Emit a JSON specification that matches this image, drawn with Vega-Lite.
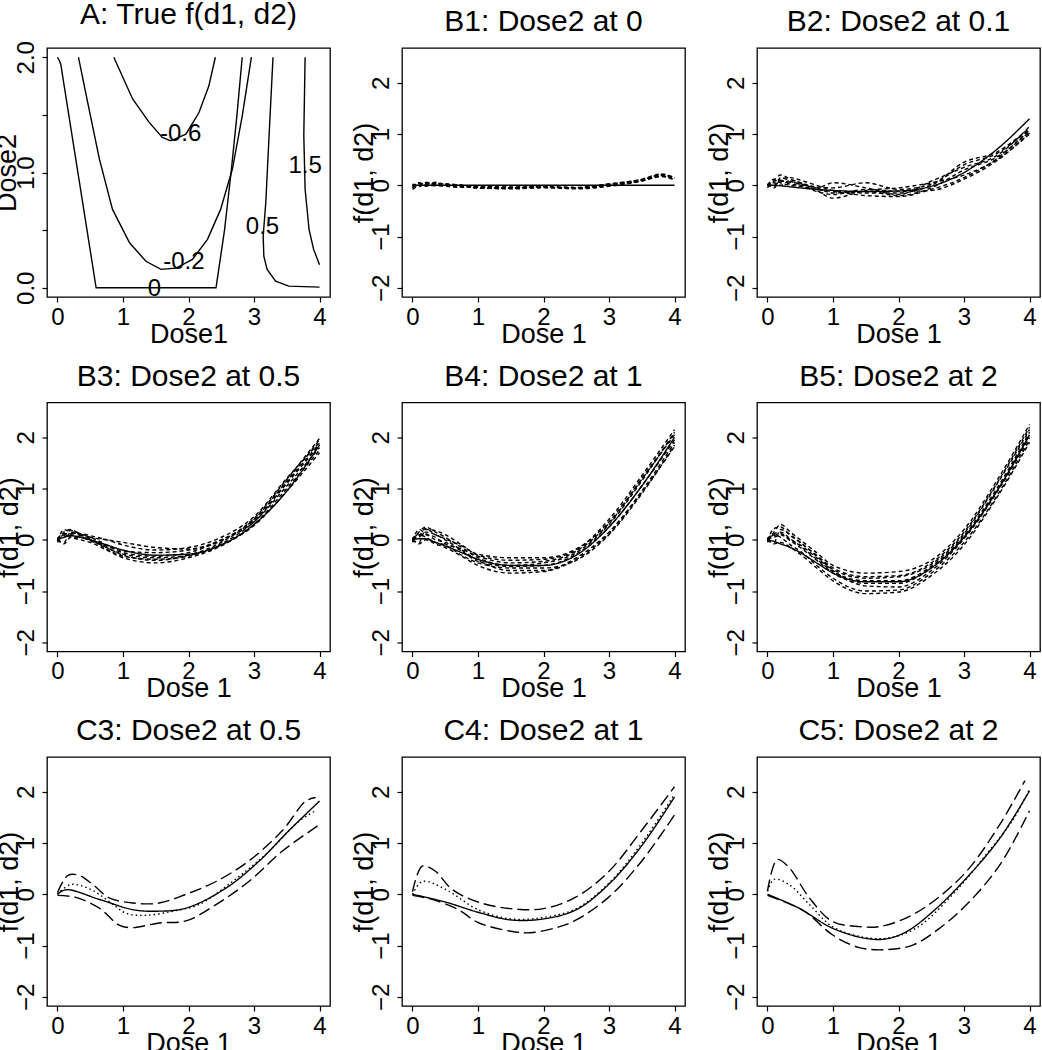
{
"$schema":"https://vega.github.io/schema/vega-lite/v6.json",
"background":"white",
"padding":{"left":-8,"top":-2,"right":0,"bottom":0},
"columns":3,
"spacing":{"row":105.5,"column":72},
"bounds":"flush",
"config":{
 "font":"Liberation Sans",
 "view":{"stroke":"black","strokeWidth":1.3},
 "axis":{"domain":false,"grid":false,"tickColor":"black","tickSize":5,"tickWidth":1.2,"labelColor":"black","labelFontSize":24,"labelFont":"Liberation Sans","titleFont":"Liberation Sans","titleFontSize":27,"titleFontWeight":"normal","titleColor":"black","labelPadding":3,"labelFlush":false,"labelOverlap":false},
 "axisY":{"labelAngle":-90,"labelAlign":"center","labelBaseline":"alphabetic","labelPadding":9,"titlePadding":-9},
 "axisX":{"titlePadding":-8},
 "title":{"fontSize":30,"fontWeight":"normal","color":"black","offset":11,"font":"Liberation Sans"}
},
"data":{"values":[
{"p":"A","s":"m06","o":1,"x":0.86,"y":2.0},{"p":"A","s":"m06","o":2,"x":1.147,"y":1.638},{"p":"A","s":"m06","o":3,"x":1.40,"y":1.435},{"p":"A","s":"m06","o":4,"x":1.60,"y":1.304},{"p":"A","s":"m06","o":5,"x":1.73,"y":1.275},{"p":"A","s":"m06","o":6,"x":1.96,"y":1.333},{"p":"A","s":"m06","o":7,"x":2.16,"y":1.52},{"p":"A","s":"m06","o":8,"x":2.31,"y":1.75},{"p":"A","s":"m06","o":9,"x":2.41,"y":2.0},
{"p":"A","s":"m02","o":1,"x":0.32,"y":2.0},{"p":"A","s":"m02","o":2,"x":0.46,"y":1.61},{"p":"A","s":"m02","o":3,"x":0.64,"y":1.116},{"p":"A","s":"m02","o":4,"x":0.84,"y":0.68},{"p":"A","s":"m02","o":5,"x":1.10,"y":0.39},{"p":"A","s":"m02","o":6,"x":1.35,"y":0.23},{"p":"A","s":"m02","o":7,"x":1.58,"y":0.16},{"p":"A","s":"m02","o":8,"x":1.81,"y":0.17},{"p":"A","s":"m02","o":9,"x":2.06,"y":0.246},{"p":"A","s":"m02","o":10,"x":2.29,"y":0.42},{"p":"A","s":"m02","o":11,"x":2.49,"y":0.68},{"p":"A","s":"m02","o":12,"x":2.67,"y":1.03},{"p":"A","s":"m02","o":13,"x":2.82,"y":1.49},{"p":"A","s":"m02","o":14,"x":2.96,"y":2.0},
{"p":"A","s":"z0","o":1,"x":0.0,"y":2.0},{"p":"A","s":"z0","o":2,"x":0.02,"y":1.98},{"p":"A","s":"z0","o":3,"x":0.05,"y":1.94},{"p":"A","s":"z0","o":4,"x":0.59,"y":0.0},{"p":"A","s":"z0","o":5,"x":2.42,"y":0.0},{"p":"A","s":"z0","o":6,"x":2.55,"y":0.5},{"p":"A","s":"z0","o":7,"x":2.65,"y":1.0},{"p":"A","s":"z0","o":8,"x":2.74,"y":1.5},{"p":"A","s":"z0","o":9,"x":2.82,"y":2.0},
{"p":"A","s":"p05","o":1,"x":3.29,"y":2.0},{"p":"A","s":"p05","o":2,"x":3.23,"y":1.32},{"p":"A","s":"p05","o":3,"x":3.18,"y":0.74},{"p":"A","s":"p05","o":4,"x":3.14,"y":0.45},{"p":"A","s":"p05","o":5,"x":3.15,"y":0.275},{"p":"A","s":"p05","o":6,"x":3.2,"y":0.16},{"p":"A","s":"p05","o":7,"x":3.33,"y":0.058},{"p":"A","s":"p05","o":8,"x":3.53,"y":0.014},{"p":"A","s":"p05","o":9,"x":4.0,"y":0.006},
{"p":"A","s":"p15","o":1,"x":3.78,"y":2.0},{"p":"A","s":"p15","o":2,"x":3.76,"y":1.32},{"p":"A","s":"p15","o":3,"x":3.78,"y":0.855},{"p":"A","s":"p15","o":4,"x":3.84,"y":0.507},{"p":"A","s":"p15","o":5,"x":3.91,"y":0.333},{"p":"A","s":"p15","o":6,"x":4.0,"y":0.2},
{"p":"AL","t":"-0.6","x":1.88,"y":1.33},{"p":"AL","t":"-0.2","x":1.93,"y":0.22},{"p":"AL","t":"0","x":1.48,"y":-0.01},{"p":"AL","t":"0.5","x":3.13,"y":0.53},{"p":"AL","t":"1.5","x":3.78,"y":1.06},

{"p":"B1","s":"t","k":"solid","x":0,"y":0},{"p":"B1","s":"t","k":"solid","x":4,"y":0},
{"p":"B1","s":"d1","k":"dash","x":0,"y":-0.08},{"p":"B1","s":"d1","k":"dash","x":0.1,"y":0.0},{"p":"B1","s":"d1","k":"dash","x":0.2,"y":0.05},{"p":"B1","s":"d1","k":"dash","x":0.35,"y":0.02},{"p":"B1","s":"d1","k":"dash","x":0.5,"y":0.0},{"p":"B1","s":"d1","k":"dash","x":0.75,"y":-0.02},{"p":"B1","s":"d1","k":"dash","x":1,"y":-0.03},{"p":"B1","s":"d1","k":"dash","x":1.5,"y":-0.05},{"p":"B1","s":"d1","k":"dash","x":2,"y":-0.04},{"p":"B1","s":"d1","k":"dash","x":2.5,"y":-0.06},{"p":"B1","s":"d1","k":"dash","x":3,"y":0.0},{"p":"B1","s":"d1","k":"dash","x":3.5,"y":0.1},{"p":"B1","s":"d1","k":"dash","x":3.8,"y":0.2},{"p":"B1","s":"d1","k":"dash","x":4,"y":0.12},
{"p":"B1","s":"d2","k":"dash","x":0,"y":-0.02},{"p":"B1","s":"d2","k":"dash","x":0.1,"y":0.04},{"p":"B1","s":"d2","k":"dash","x":0.2,"y":0.02},{"p":"B1","s":"d2","k":"dash","x":0.35,"y":0.06},{"p":"B1","s":"d2","k":"dash","x":0.5,"y":0.02},{"p":"B1","s":"d2","k":"dash","x":0.75,"y":0.0},{"p":"B1","s":"d2","k":"dash","x":1,"y":-0.04},{"p":"B1","s":"d2","k":"dash","x":1.5,"y":-0.07},{"p":"B1","s":"d2","k":"dash","x":2,"y":-0.05},{"p":"B1","s":"d2","k":"dash","x":2.5,"y":-0.05},{"p":"B1","s":"d2","k":"dash","x":3,"y":0.02},{"p":"B1","s":"d2","k":"dash","x":3.5,"y":0.12},{"p":"B1","s":"d2","k":"dash","x":3.8,"y":0.22},{"p":"B1","s":"d2","k":"dash","x":4,"y":0.15},
{"p":"B1","s":"d3","k":"dash","x":0,"y":0.0},{"p":"B1","s":"d3","k":"dash","x":0.1,"y":-0.03},{"p":"B1","s":"d3","k":"dash","x":0.2,"y":0.04},{"p":"B1","s":"d3","k":"dash","x":0.35,"y":0.0},{"p":"B1","s":"d3","k":"dash","x":0.5,"y":-0.02},{"p":"B1","s":"d3","k":"dash","x":0.75,"y":-0.03},{"p":"B1","s":"d3","k":"dash","x":1,"y":-0.02},{"p":"B1","s":"d3","k":"dash","x":1.5,"y":-0.04},{"p":"B1","s":"d3","k":"dash","x":2,"y":-0.03},{"p":"B1","s":"d3","k":"dash","x":2.5,"y":-0.07},{"p":"B1","s":"d3","k":"dash","x":3,"y":-0.02},{"p":"B1","s":"d3","k":"dash","x":3.5,"y":0.08},{"p":"B1","s":"d3","k":"dash","x":3.8,"y":0.17},{"p":"B1","s":"d3","k":"dash","x":4,"y":0.1},
{"p":"B1","s":"d4","k":"dash","x":0,"y":-0.05},{"p":"B1","s":"d4","k":"dash","x":0.1,"y":0.03},{"p":"B1","s":"d4","k":"dash","x":0.2,"y":-0.02},{"p":"B1","s":"d4","k":"dash","x":0.35,"y":0.04},{"p":"B1","s":"d4","k":"dash","x":0.5,"y":0.01},{"p":"B1","s":"d4","k":"dash","x":0.75,"y":-0.01},{"p":"B1","s":"d4","k":"dash","x":1,"y":-0.05},{"p":"B1","s":"d4","k":"dash","x":1.5,"y":-0.06},{"p":"B1","s":"d4","k":"dash","x":2,"y":-0.02},{"p":"B1","s":"d4","k":"dash","x":2.5,"y":-0.04},{"p":"B1","s":"d4","k":"dash","x":3,"y":0.03},{"p":"B1","s":"d4","k":"dash","x":3.5,"y":0.11},{"p":"B1","s":"d4","k":"dash","x":3.8,"y":0.19},{"p":"B1","s":"d4","k":"dash","x":4,"y":0.13},
{"p":"B1","s":"d5","k":"dash","x":0,"y":0.02},{"p":"B1","s":"d5","k":"dash","x":0.1,"y":0.0},{"p":"B1","s":"d5","k":"dash","x":0.2,"y":0.06},{"p":"B1","s":"d5","k":"dash","x":0.35,"y":0.03},{"p":"B1","s":"d5","k":"dash","x":0.5,"y":-0.01},{"p":"B1","s":"d5","k":"dash","x":0.75,"y":-0.04},{"p":"B1","s":"d5","k":"dash","x":1,"y":-0.03},{"p":"B1","s":"d5","k":"dash","x":1.5,"y":-0.03},{"p":"B1","s":"d5","k":"dash","x":2,"y":-0.04},{"p":"B1","s":"d5","k":"dash","x":2.5,"y":-0.06},{"p":"B1","s":"d5","k":"dash","x":3,"y":0.01},{"p":"B1","s":"d5","k":"dash","x":3.5,"y":0.09},{"p":"B1","s":"d5","k":"dash","x":3.8,"y":0.18},{"p":"B1","s":"d5","k":"dash","x":4,"y":0.11},
{"p":"B1","s":"d6","k":"dash","x":0,"y":-0.04},{"p":"B1","s":"d6","k":"dash","x":0.1,"y":0.05},{"p":"B1","s":"d6","k":"dash","x":0.2,"y":0.01},{"p":"B1","s":"d6","k":"dash","x":0.35,"y":-0.01},{"p":"B1","s":"d6","k":"dash","x":0.5,"y":0.03},{"p":"B1","s":"d6","k":"dash","x":0.75,"y":0.0},{"p":"B1","s":"d6","k":"dash","x":1,"y":-0.06},{"p":"B1","s":"d6","k":"dash","x":1.5,"y":-0.05},{"p":"B1","s":"d6","k":"dash","x":2,"y":-0.03},{"p":"B1","s":"d6","k":"dash","x":2.5,"y":-0.05},{"p":"B1","s":"d6","k":"dash","x":3,"y":0.0},{"p":"B1","s":"d6","k":"dash","x":3.5,"y":0.1},{"p":"B1","s":"d6","k":"dash","x":3.8,"y":0.21},{"p":"B1","s":"d6","k":"dash","x":4,"y":0.14},

{"p":"B2","s":"t","k":"solid","x":0,"y":0},{"p":"B2","s":"t","k":"solid","x":0.1,"y":0.0},{"p":"B2","s":"t","k":"solid","x":0.2,"y":-0.01},{"p":"B2","s":"t","k":"solid","x":0.35,"y":-0.03},{"p":"B2","s":"t","k":"solid","x":0.5,"y":-0.05},{"p":"B2","s":"t","k":"solid","x":0.75,"y":-0.08},{"p":"B2","s":"t","k":"solid","x":1,"y":-0.1},{"p":"B2","s":"t","k":"solid","x":1.5,"y":-0.12},{"p":"B2","s":"t","k":"solid","x":2,"y":-0.11},{"p":"B2","s":"t","k":"solid","x":2.5,"y":-0.02},{"p":"B2","s":"t","k":"solid","x":3,"y":0.25},{"p":"B2","s":"t","k":"solid","x":3.5,"y":0.7},{"p":"B2","s":"t","k":"solid","x":4,"y":1.3},
{"p":"B2","s":"d1","k":"dash","x":0,"y":0.0},{"p":"B2","s":"d1","k":"dash","x":0.1,"y":0.1},{"p":"B2","s":"d1","k":"dash","x":0.2,"y":0.2},{"p":"B2","s":"d1","k":"dash","x":0.35,"y":0.12},{"p":"B2","s":"d1","k":"dash","x":0.5,"y":0.05},{"p":"B2","s":"d1","k":"dash","x":0.75,"y":-0.05},{"p":"B2","s":"d1","k":"dash","x":1,"y":-0.15},{"p":"B2","s":"d1","k":"dash","x":1.5,"y":-0.12},{"p":"B2","s":"d1","k":"dash","x":2,"y":-0.2},{"p":"B2","s":"d1","k":"dash","x":2.5,"y":-0.05},{"p":"B2","s":"d1","k":"dash","x":3,"y":0.3},{"p":"B2","s":"d1","k":"dash","x":3.5,"y":0.55},{"p":"B2","s":"d1","k":"dash","x":4,"y":1.05},
{"p":"B2","s":"d2","k":"dash","x":0,"y":0.02},{"p":"B2","s":"d2","k":"dash","x":0.1,"y":-0.05},{"p":"B2","s":"d2","k":"dash","x":0.2,"y":0.12},{"p":"B2","s":"d2","k":"dash","x":0.35,"y":0.15},{"p":"B2","s":"d2","k":"dash","x":0.5,"y":0.1},{"p":"B2","s":"d2","k":"dash","x":0.75,"y":0.0},{"p":"B2","s":"d2","k":"dash","x":1,"y":-0.1},{"p":"B2","s":"d2","k":"dash","x":1.5,"y":-0.15},{"p":"B2","s":"d2","k":"dash","x":2,"y":-0.15},{"p":"B2","s":"d2","k":"dash","x":2.5,"y":0.0},{"p":"B2","s":"d2","k":"dash","x":3,"y":0.4},{"p":"B2","s":"d2","k":"dash","x":3.5,"y":0.62},{"p":"B2","s":"d2","k":"dash","x":4,"y":1.1},
{"p":"B2","s":"d3","k":"dash","x":0,"y":-0.05},{"p":"B2","s":"d3","k":"dash","x":0.1,"y":0.05},{"p":"B2","s":"d3","k":"dash","x":0.2,"y":0.0},{"p":"B2","s":"d3","k":"dash","x":0.35,"y":0.1},{"p":"B2","s":"d3","k":"dash","x":0.5,"y":0.05},{"p":"B2","s":"d3","k":"dash","x":0.75,"y":-0.1},{"p":"B2","s":"d3","k":"dash","x":1,"y":-0.25},{"p":"B2","s":"d3","k":"dash","x":1.5,"y":-0.1},{"p":"B2","s":"d3","k":"dash","x":2,"y":-0.05},{"p":"B2","s":"d3","k":"dash","x":2.5,"y":0.05},{"p":"B2","s":"d3","k":"dash","x":3,"y":0.2},{"p":"B2","s":"d3","k":"dash","x":3.5,"y":0.5},{"p":"B2","s":"d3","k":"dash","x":4,"y":1.0},
{"p":"B2","s":"d4","k":"dash","x":0,"y":0.0},{"p":"B2","s":"d4","k":"dash","x":0.1,"y":0.12},{"p":"B2","s":"d4","k":"dash","x":0.2,"y":0.05},{"p":"B2","s":"d4","k":"dash","x":0.35,"y":0.0},{"p":"B2","s":"d4","k":"dash","x":0.5,"y":-0.02},{"p":"B2","s":"d4","k":"dash","x":0.75,"y":-0.08},{"p":"B2","s":"d4","k":"dash","x":1,"y":-0.12},{"p":"B2","s":"d4","k":"dash","x":1.5,"y":-0.2},{"p":"B2","s":"d4","k":"dash","x":2,"y":-0.22},{"p":"B2","s":"d4","k":"dash","x":2.5,"y":-0.08},{"p":"B2","s":"d4","k":"dash","x":3,"y":0.15},{"p":"B2","s":"d4","k":"dash","x":3.5,"y":0.52},{"p":"B2","s":"d4","k":"dash","x":4,"y":1.08},
{"p":"B2","s":"d5","k":"dash","x":0,"y":0.03},{"p":"B2","s":"d5","k":"dash","x":0.1,"y":-0.02},{"p":"B2","s":"d5","k":"dash","x":0.2,"y":0.15},{"p":"B2","s":"d5","k":"dash","x":0.35,"y":0.08},{"p":"B2","s":"d5","k":"dash","x":0.5,"y":0.02},{"p":"B2","s":"d5","k":"dash","x":0.75,"y":-0.03},{"p":"B2","s":"d5","k":"dash","x":1,"y":-0.05},{"p":"B2","s":"d5","k":"dash","x":1.5,"y":0.05},{"p":"B2","s":"d5","k":"dash","x":2,"y":-0.08},{"p":"B2","s":"d5","k":"dash","x":2.5,"y":0.02},{"p":"B2","s":"d5","k":"dash","x":3,"y":0.45},{"p":"B2","s":"d5","k":"dash","x":3.5,"y":0.65},{"p":"B2","s":"d5","k":"dash","x":4,"y":1.12},
{"p":"B2","s":"d6","k":"dash","x":0,"y":-0.02},{"p":"B2","s":"d6","k":"dash","x":0.1,"y":0.08},{"p":"B2","s":"d6","k":"dash","x":0.2,"y":0.1},{"p":"B2","s":"d6","k":"dash","x":0.35,"y":0.02},{"p":"B2","s":"d6","k":"dash","x":0.5,"y":0.0},{"p":"B2","s":"d6","k":"dash","x":0.75,"y":-0.12},{"p":"B2","s":"d6","k":"dash","x":1,"y":-0.18},{"p":"B2","s":"d6","k":"dash","x":1.5,"y":-0.08},{"p":"B2","s":"d6","k":"dash","x":2,"y":-0.12},{"p":"B2","s":"d6","k":"dash","x":2.5,"y":-0.1},{"p":"B2","s":"d6","k":"dash","x":3,"y":0.12},{"p":"B2","s":"d6","k":"dash","x":3.5,"y":0.48},{"p":"B2","s":"d6","k":"dash","x":4,"y":1.02},
{"p":"B2","s":"d7","k":"dash","x":0,"y":0.0},{"p":"B2","s":"d7","k":"dash","x":0.1,"y":0.0},{"p":"B2","s":"d7","k":"dash","x":0.2,"y":0.08},{"p":"B2","s":"d7","k":"dash","x":0.35,"y":0.06},{"p":"B2","s":"d7","k":"dash","x":0.5,"y":0.03},{"p":"B2","s":"d7","k":"dash","x":0.75,"y":-0.05},{"p":"B2","s":"d7","k":"dash","x":1,"y":0.05},{"p":"B2","s":"d7","k":"dash","x":1.5,"y":-0.05},{"p":"B2","s":"d7","k":"dash","x":2,"y":-0.18},{"p":"B2","s":"d7","k":"dash","x":2.5,"y":0.08},{"p":"B2","s":"d7","k":"dash","x":3,"y":0.35},{"p":"B2","s":"d7","k":"dash","x":3.5,"y":0.58},{"p":"B2","s":"d7","k":"dash","x":4,"y":1.15},

{"p":"B3","s":"t","k":"solid","x":0,"y":0},{"p":"B3","s":"t","k":"solid","x":0.1,"y":0.05},{"p":"B3","s":"t","k":"solid","x":0.2,"y":0.08},{"p":"B3","s":"t","k":"solid","x":0.35,"y":0.05},{"p":"B3","s":"t","k":"solid","x":0.5,"y":0.0},{"p":"B3","s":"t","k":"solid","x":0.75,"y":-0.1},{"p":"B3","s":"t","k":"solid","x":1,"y":-0.2},{"p":"B3","s":"t","k":"solid","x":1.5,"y":-0.3},{"p":"B3","s":"t","k":"solid","x":2,"y":-0.28},{"p":"B3","s":"t","k":"solid","x":2.5,"y":-0.1},{"p":"B3","s":"t","k":"solid","x":3,"y":0.3},{"p":"B3","s":"t","k":"solid","x":3.5,"y":0.95},{"p":"B3","s":"t","k":"solid","x":4,"y":1.85},
{"p":"B3","s":"d1","k":"dash","x":0,"y":0.0},{"p":"B3","s":"d1","k":"dash","x":0.1,"y":0.15},{"p":"B3","s":"d1","k":"dash","x":0.2,"y":0.2},{"p":"B3","s":"d1","k":"dash","x":0.35,"y":0.1},{"p":"B3","s":"d1","k":"dash","x":0.5,"y":0.02},{"p":"B3","s":"d1","k":"dash","x":0.75,"y":-0.15},{"p":"B3","s":"d1","k":"dash","x":1,"y":-0.3},{"p":"B3","s":"d1","k":"dash","x":1.5,"y":-0.4},{"p":"B3","s":"d1","k":"dash","x":2,"y":-0.3},{"p":"B3","s":"d1","k":"dash","x":2.5,"y":-0.05},{"p":"B3","s":"d1","k":"dash","x":3,"y":0.4},{"p":"B3","s":"d1","k":"dash","x":3.5,"y":1.15},{"p":"B3","s":"d1","k":"dash","x":4,"y":1.95},
{"p":"B3","s":"d2","k":"dash","x":0,"y":0.02},{"p":"B3","s":"d2","k":"dash","x":0.1,"y":0.05},{"p":"B3","s":"d2","k":"dash","x":0.2,"y":0.12},{"p":"B3","s":"d2","k":"dash","x":0.35,"y":0.12},{"p":"B3","s":"d2","k":"dash","x":0.5,"y":0.08},{"p":"B3","s":"d2","k":"dash","x":0.75,"y":0.0},{"p":"B3","s":"d2","k":"dash","x":1,"y":-0.1},{"p":"B3","s":"d2","k":"dash","x":1.5,"y":-0.2},{"p":"B3","s":"d2","k":"dash","x":2,"y":-0.15},{"p":"B3","s":"d2","k":"dash","x":2.5,"y":0.05},{"p":"B3","s":"d2","k":"dash","x":3,"y":0.45},{"p":"B3","s":"d2","k":"dash","x":3.5,"y":1.2},{"p":"B3","s":"d2","k":"dash","x":4,"y":1.9},
{"p":"B3","s":"d3","k":"dash","x":0,"y":-0.05},{"p":"B3","s":"d3","k":"dash","x":0.1,"y":0.1},{"p":"B3","s":"d3","k":"dash","x":0.2,"y":0.05},{"p":"B3","s":"d3","k":"dash","x":0.35,"y":0.0},{"p":"B3","s":"d3","k":"dash","x":0.5,"y":-0.05},{"p":"B3","s":"d3","k":"dash","x":0.75,"y":-0.2},{"p":"B3","s":"d3","k":"dash","x":1,"y":-0.35},{"p":"B3","s":"d3","k":"dash","x":1.5,"y":-0.45},{"p":"B3","s":"d3","k":"dash","x":2,"y":-0.35},{"p":"B3","s":"d3","k":"dash","x":2.5,"y":-0.12},{"p":"B3","s":"d3","k":"dash","x":3,"y":0.3},{"p":"B3","s":"d3","k":"dash","x":3.5,"y":1.0},{"p":"B3","s":"d3","k":"dash","x":4,"y":1.75},
{"p":"B3","s":"d4","k":"dash","x":0,"y":0.0},{"p":"B3","s":"d4","k":"dash","x":0.1,"y":-0.05},{"p":"B3","s":"d4","k":"dash","x":0.2,"y":0.15},{"p":"B3","s":"d4","k":"dash","x":0.35,"y":0.1},{"p":"B3","s":"d4","k":"dash","x":0.5,"y":0.05},{"p":"B3","s":"d4","k":"dash","x":0.75,"y":-0.1},{"p":"B3","s":"d4","k":"dash","x":1,"y":-0.25},{"p":"B3","s":"d4","k":"dash","x":1.5,"y":-0.32},{"p":"B3","s":"d4","k":"dash","x":2,"y":-0.25},{"p":"B3","s":"d4","k":"dash","x":2.5,"y":0.0},{"p":"B3","s":"d4","k":"dash","x":3,"y":0.38},{"p":"B3","s":"d4","k":"dash","x":3.5,"y":1.1},{"p":"B3","s":"d4","k":"dash","x":4,"y":1.85},
{"p":"B3","s":"d5","k":"dash","x":0,"y":0.03},{"p":"B3","s":"d5","k":"dash","x":0.1,"y":0.12},{"p":"B3","s":"d5","k":"dash","x":0.2,"y":0.1},{"p":"B3","s":"d5","k":"dash","x":0.35,"y":0.05},{"p":"B3","s":"d5","k":"dash","x":0.5,"y":0.0},{"p":"B3","s":"d5","k":"dash","x":0.75,"y":-0.15},{"p":"B3","s":"d5","k":"dash","x":1,"y":-0.28},{"p":"B3","s":"d5","k":"dash","x":1.5,"y":-0.35},{"p":"B3","s":"d5","k":"dash","x":2,"y":-0.3},{"p":"B3","s":"d5","k":"dash","x":2.5,"y":-0.08},{"p":"B3","s":"d5","k":"dash","x":3,"y":0.35},{"p":"B3","s":"d5","k":"dash","x":3.5,"y":1.05},{"p":"B3","s":"d5","k":"dash","x":4,"y":1.8},
{"p":"B3","s":"d6","k":"dash","x":0,"y":-0.02},{"p":"B3","s":"d6","k":"dash","x":0.1,"y":0.2},{"p":"B3","s":"d6","k":"dash","x":0.2,"y":0.15},{"p":"B3","s":"d6","k":"dash","x":0.35,"y":0.08},{"p":"B3","s":"d6","k":"dash","x":0.5,"y":-0.02},{"p":"B3","s":"d6","k":"dash","x":0.75,"y":-0.12},{"p":"B3","s":"d6","k":"dash","x":1,"y":-0.22},{"p":"B3","s":"d6","k":"dash","x":1.5,"y":-0.25},{"p":"B3","s":"d6","k":"dash","x":2,"y":-0.2},{"p":"B3","s":"d6","k":"dash","x":2.5,"y":-0.02},{"p":"B3","s":"d6","k":"dash","x":3,"y":0.42},{"p":"B3","s":"d6","k":"dash","x":3.5,"y":1.18},{"p":"B3","s":"d6","k":"dash","x":4,"y":1.98},
{"p":"B3","s":"d7","k":"dash","x":0,"y":0.0},{"p":"B3","s":"d7","k":"dash","x":0.1,"y":-0.08},{"p":"B3","s":"d7","k":"dash","x":0.2,"y":0.05},{"p":"B3","s":"d7","k":"dash","x":0.35,"y":0.05},{"p":"B3","s":"d7","k":"dash","x":0.5,"y":0.0},{"p":"B3","s":"d7","k":"dash","x":0.75,"y":-0.18},{"p":"B3","s":"d7","k":"dash","x":1,"y":-0.32},{"p":"B3","s":"d7","k":"dash","x":1.5,"y":-0.38},{"p":"B3","s":"d7","k":"dash","x":2,"y":-0.32},{"p":"B3","s":"d7","k":"dash","x":2.5,"y":-0.1},{"p":"B3","s":"d7","k":"dash","x":3,"y":0.28},{"p":"B3","s":"d7","k":"dash","x":3.5,"y":0.95},{"p":"B3","s":"d7","k":"dash","x":4,"y":1.7},
{"p":"B3","s":"d8","k":"dash","x":0,"y":0.02},{"p":"B3","s":"d8","k":"dash","x":0.1,"y":0.08},{"p":"B3","s":"d8","k":"dash","x":0.2,"y":0.18},{"p":"B3","s":"d8","k":"dash","x":0.35,"y":0.12},{"p":"B3","s":"d8","k":"dash","x":0.5,"y":0.05},{"p":"B3","s":"d8","k":"dash","x":0.75,"y":0.0},{"p":"B3","s":"d8","k":"dash","x":1,"y":-0.05},{"p":"B3","s":"d8","k":"dash","x":1.5,"y":-0.15},{"p":"B3","s":"d8","k":"dash","x":2,"y":-0.18},{"p":"B3","s":"d8","k":"dash","x":2.5,"y":0.0},{"p":"B3","s":"d8","k":"dash","x":3,"y":0.35},{"p":"B3","s":"d8","k":"dash","x":3.5,"y":1.12},{"p":"B3","s":"d8","k":"dash","x":4,"y":1.88},

{"p":"B4","s":"t","k":"solid","x":0,"y":0},{"p":"B4","s":"t","k":"solid","x":0.1,"y":0.02},{"p":"B4","s":"t","k":"solid","x":0.2,"y":0.02},{"p":"B4","s":"t","k":"solid","x":0.35,"y":-0.05},{"p":"B4","s":"t","k":"solid","x":0.5,"y":-0.12},{"p":"B4","s":"t","k":"solid","x":0.75,"y":-0.25},{"p":"B4","s":"t","k":"solid","x":1,"y":-0.38},{"p":"B4","s":"t","k":"solid","x":1.5,"y":-0.5},{"p":"B4","s":"t","k":"solid","x":2,"y":-0.5},{"p":"B4","s":"t","k":"solid","x":2.5,"y":-0.3},{"p":"B4","s":"t","k":"solid","x":3,"y":0.25},{"p":"B4","s":"t","k":"solid","x":3.5,"y":1.05},{"p":"B4","s":"t","k":"solid","x":4,"y":2.0},
{"p":"B4","s":"d1","k":"dash","x":0,"y":0.0},{"p":"B4","s":"d1","k":"dash","x":0.1,"y":0.15},{"p":"B4","s":"d1","k":"dash","x":0.2,"y":0.25},{"p":"B4","s":"d1","k":"dash","x":0.35,"y":0.15},{"p":"B4","s":"d1","k":"dash","x":0.5,"y":0.05},{"p":"B4","s":"d1","k":"dash","x":0.75,"y":-0.15},{"p":"B4","s":"d1","k":"dash","x":1,"y":-0.35},{"p":"B4","s":"d1","k":"dash","x":1.5,"y":-0.5},{"p":"B4","s":"d1","k":"dash","x":2,"y":-0.45},{"p":"B4","s":"d1","k":"dash","x":2.5,"y":-0.25},{"p":"B4","s":"d1","k":"dash","x":3,"y":0.3},{"p":"B4","s":"d1","k":"dash","x":3.5,"y":1.15},{"p":"B4","s":"d1","k":"dash","x":4,"y":2.1},
{"p":"B4","s":"d2","k":"dash","x":0,"y":0.02},{"p":"B4","s":"d2","k":"dash","x":0.1,"y":0.05},{"p":"B4","s":"d2","k":"dash","x":0.2,"y":0.15},{"p":"B4","s":"d2","k":"dash","x":0.35,"y":0.1},{"p":"B4","s":"d2","k":"dash","x":0.5,"y":0.0},{"p":"B4","s":"d2","k":"dash","x":0.75,"y":-0.2},{"p":"B4","s":"d2","k":"dash","x":1,"y":-0.4},{"p":"B4","s":"d2","k":"dash","x":1.5,"y":-0.6},{"p":"B4","s":"d2","k":"dash","x":2,"y":-0.6},{"p":"B4","s":"d2","k":"dash","x":2.5,"y":-0.35},{"p":"B4","s":"d2","k":"dash","x":3,"y":0.15},{"p":"B4","s":"d2","k":"dash","x":3.5,"y":0.95},{"p":"B4","s":"d2","k":"dash","x":4,"y":1.9},
{"p":"B4","s":"d3","k":"dash","x":0,"y":-0.05},{"p":"B4","s":"d3","k":"dash","x":0.1,"y":0.12},{"p":"B4","s":"d3","k":"dash","x":0.2,"y":0.05},{"p":"B4","s":"d3","k":"dash","x":0.35,"y":-0.05},{"p":"B4","s":"d3","k":"dash","x":0.5,"y":-0.1},{"p":"B4","s":"d3","k":"dash","x":0.75,"y":-0.3},{"p":"B4","s":"d3","k":"dash","x":1,"y":-0.45},{"p":"B4","s":"d3","k":"dash","x":1.5,"y":-0.55},{"p":"B4","s":"d3","k":"dash","x":2,"y":-0.55},{"p":"B4","s":"d3","k":"dash","x":2.5,"y":-0.4},{"p":"B4","s":"d3","k":"dash","x":3,"y":0.1},{"p":"B4","s":"d3","k":"dash","x":3.5,"y":0.9},{"p":"B4","s":"d3","k":"dash","x":4,"y":1.85},
{"p":"B4","s":"d4","k":"dash","x":0,"y":0.0},{"p":"B4","s":"d4","k":"dash","x":0.1,"y":-0.05},{"p":"B4","s":"d4","k":"dash","x":0.2,"y":0.2},{"p":"B4","s":"d4","k":"dash","x":0.35,"y":0.18},{"p":"B4","s":"d4","k":"dash","x":0.5,"y":0.1},{"p":"B4","s":"d4","k":"dash","x":0.75,"y":-0.1},{"p":"B4","s":"d4","k":"dash","x":1,"y":-0.3},{"p":"B4","s":"d4","k":"dash","x":1.5,"y":-0.4},{"p":"B4","s":"d4","k":"dash","x":2,"y":-0.38},{"p":"B4","s":"d4","k":"dash","x":2.5,"y":-0.2},{"p":"B4","s":"d4","k":"dash","x":3,"y":0.4},{"p":"B4","s":"d4","k":"dash","x":3.5,"y":1.25},{"p":"B4","s":"d4","k":"dash","x":4,"y":2.15},
{"p":"B4","s":"d5","k":"dash","x":0,"y":0.03},{"p":"B4","s":"d5","k":"dash","x":0.1,"y":0.1},{"p":"B4","s":"d5","k":"dash","x":0.2,"y":0.1},{"p":"B4","s":"d5","k":"dash","x":0.35,"y":0.0},{"p":"B4","s":"d5","k":"dash","x":0.5,"y":-0.05},{"p":"B4","s":"d5","k":"dash","x":0.75,"y":-0.22},{"p":"B4","s":"d5","k":"dash","x":1,"y":-0.42},{"p":"B4","s":"d5","k":"dash","x":1.5,"y":-0.52},{"p":"B4","s":"d5","k":"dash","x":2,"y":-0.5},{"p":"B4","s":"d5","k":"dash","x":2.5,"y":-0.28},{"p":"B4","s":"d5","k":"dash","x":3,"y":0.25},{"p":"B4","s":"d5","k":"dash","x":3.5,"y":1.05},{"p":"B4","s":"d5","k":"dash","x":4,"y":1.95},
{"p":"B4","s":"d6","k":"dash","x":0,"y":-0.02},{"p":"B4","s":"d6","k":"dash","x":0.1,"y":0.2},{"p":"B4","s":"d6","k":"dash","x":0.2,"y":0.12},{"p":"B4","s":"d6","k":"dash","x":0.35,"y":0.05},{"p":"B4","s":"d6","k":"dash","x":0.5,"y":-0.08},{"p":"B4","s":"d6","k":"dash","x":0.75,"y":-0.18},{"p":"B4","s":"d6","k":"dash","x":1,"y":-0.32},{"p":"B4","s":"d6","k":"dash","x":1.5,"y":-0.45},{"p":"B4","s":"d6","k":"dash","x":2,"y":-0.42},{"p":"B4","s":"d6","k":"dash","x":2.5,"y":-0.22},{"p":"B4","s":"d6","k":"dash","x":3,"y":0.32},{"p":"B4","s":"d6","k":"dash","x":3.5,"y":1.18},{"p":"B4","s":"d6","k":"dash","x":4,"y":2.05},
{"p":"B4","s":"d7","k":"dash","x":0,"y":0.0},{"p":"B4","s":"d7","k":"dash","x":0.1,"y":-0.08},{"p":"B4","s":"d7","k":"dash","x":0.2,"y":0.0},{"p":"B4","s":"d7","k":"dash","x":0.35,"y":-0.08},{"p":"B4","s":"d7","k":"dash","x":0.5,"y":-0.15},{"p":"B4","s":"d7","k":"dash","x":0.75,"y":-0.32},{"p":"B4","s":"d7","k":"dash","x":1,"y":-0.5},{"p":"B4","s":"d7","k":"dash","x":1.5,"y":-0.65},{"p":"B4","s":"d7","k":"dash","x":2,"y":-0.62},{"p":"B4","s":"d7","k":"dash","x":2.5,"y":-0.38},{"p":"B4","s":"d7","k":"dash","x":3,"y":0.12},{"p":"B4","s":"d7","k":"dash","x":3.5,"y":0.92},{"p":"B4","s":"d7","k":"dash","x":4,"y":1.82},
{"p":"B4","s":"d8","k":"dash","x":0,"y":0.02},{"p":"B4","s":"d8","k":"dash","x":0.1,"y":0.08},{"p":"B4","s":"d8","k":"dash","x":0.2,"y":0.22},{"p":"B4","s":"d8","k":"dash","x":0.35,"y":0.1},{"p":"B4","s":"d8","k":"dash","x":0.5,"y":0.02},{"p":"B4","s":"d8","k":"dash","x":0.75,"y":-0.12},{"p":"B4","s":"d8","k":"dash","x":1,"y":-0.28},{"p":"B4","s":"d8","k":"dash","x":1.5,"y":-0.35},{"p":"B4","s":"d8","k":"dash","x":2,"y":-0.35},{"p":"B4","s":"d8","k":"dash","x":2.5,"y":-0.18},{"p":"B4","s":"d8","k":"dash","x":3,"y":0.35},{"p":"B4","s":"d8","k":"dash","x":3.5,"y":1.2},{"p":"B4","s":"d8","k":"dash","x":4,"y":2.08},

{"p":"B5","s":"t","k":"solid","x":0,"y":0},{"p":"B5","s":"t","k":"solid","x":0.1,"y":-0.03},{"p":"B5","s":"t","k":"solid","x":0.2,"y":-0.08},{"p":"B5","s":"t","k":"solid","x":0.35,"y":-0.15},{"p":"B5","s":"t","k":"solid","x":0.5,"y":-0.25},{"p":"B5","s":"t","k":"solid","x":0.75,"y":-0.45},{"p":"B5","s":"t","k":"solid","x":1,"y":-0.65},{"p":"B5","s":"t","k":"solid","x":1.5,"y":-0.82},{"p":"B5","s":"t","k":"solid","x":2,"y":-0.82},{"p":"B5","s":"t","k":"solid","x":2.5,"y":-0.55},{"p":"B5","s":"t","k":"solid","x":3,"y":0.05},{"p":"B5","s":"t","k":"solid","x":3.5,"y":0.95},{"p":"B5","s":"t","k":"solid","x":4,"y":2.05},
{"p":"B5","s":"d1","k":"dash","x":0,"y":0.0},{"p":"B5","s":"d1","k":"dash","x":0.1,"y":0.15},{"p":"B5","s":"d1","k":"dash","x":0.2,"y":0.3},{"p":"B5","s":"d1","k":"dash","x":0.35,"y":0.15},{"p":"B5","s":"d1","k":"dash","x":0.5,"y":0.0},{"p":"B5","s":"d1","k":"dash","x":0.75,"y":-0.25},{"p":"B5","s":"d1","k":"dash","x":1,"y":-0.5},{"p":"B5","s":"d1","k":"dash","x":1.5,"y":-0.65},{"p":"B5","s":"d1","k":"dash","x":2,"y":-0.62},{"p":"B5","s":"d1","k":"dash","x":2.5,"y":-0.4},{"p":"B5","s":"d1","k":"dash","x":3,"y":0.2},{"p":"B5","s":"d1","k":"dash","x":3.5,"y":1.15},{"p":"B5","s":"d1","k":"dash","x":4,"y":2.25},
{"p":"B5","s":"d2","k":"dash","x":0,"y":0.02},{"p":"B5","s":"d2","k":"dash","x":0.1,"y":0.05},{"p":"B5","s":"d2","k":"dash","x":0.2,"y":0.1},{"p":"B5","s":"d2","k":"dash","x":0.35,"y":-0.02},{"p":"B5","s":"d2","k":"dash","x":0.5,"y":-0.15},{"p":"B5","s":"d2","k":"dash","x":0.75,"y":-0.4},{"p":"B5","s":"d2","k":"dash","x":1,"y":-0.65},{"p":"B5","s":"d2","k":"dash","x":1.5,"y":-0.85},{"p":"B5","s":"d2","k":"dash","x":2,"y":-0.85},{"p":"B5","s":"d2","k":"dash","x":2.5,"y":-0.55},{"p":"B5","s":"d2","k":"dash","x":3,"y":0.05},{"p":"B5","s":"d2","k":"dash","x":3.5,"y":0.95},{"p":"B5","s":"d2","k":"dash","x":4,"y":2.05},
{"p":"B5","s":"d3","k":"dash","x":0,"y":-0.05},{"p":"B5","s":"d3","k":"dash","x":0.1,"y":0.1},{"p":"B5","s":"d3","k":"dash","x":0.2,"y":0.05},{"p":"B5","s":"d3","k":"dash","x":0.35,"y":-0.1},{"p":"B5","s":"d3","k":"dash","x":0.5,"y":-0.22},{"p":"B5","s":"d3","k":"dash","x":0.75,"y":-0.5},{"p":"B5","s":"d3","k":"dash","x":1,"y":-0.75},{"p":"B5","s":"d3","k":"dash","x":1.5,"y":-1.0},{"p":"B5","s":"d3","k":"dash","x":2,"y":-0.98},{"p":"B5","s":"d3","k":"dash","x":2.5,"y":-0.65},{"p":"B5","s":"d3","k":"dash","x":3,"y":-0.05},{"p":"B5","s":"d3","k":"dash","x":3.5,"y":0.85},{"p":"B5","s":"d3","k":"dash","x":4,"y":1.95},
{"p":"B5","s":"d4","k":"dash","x":0,"y":0.0},{"p":"B5","s":"d4","k":"dash","x":0.1,"y":-0.05},{"p":"B5","s":"d4","k":"dash","x":0.2,"y":0.2},{"p":"B5","s":"d4","k":"dash","x":0.35,"y":0.1},{"p":"B5","s":"d4","k":"dash","x":0.5,"y":-0.05},{"p":"B5","s":"d4","k":"dash","x":0.75,"y":-0.3},{"p":"B5","s":"d4","k":"dash","x":1,"y":-0.55},{"p":"B5","s":"d4","k":"dash","x":1.5,"y":-0.72},{"p":"B5","s":"d4","k":"dash","x":2,"y":-0.7},{"p":"B5","s":"d4","k":"dash","x":2.5,"y":-0.45},{"p":"B5","s":"d4","k":"dash","x":3,"y":0.15},{"p":"B5","s":"d4","k":"dash","x":3.5,"y":1.1},{"p":"B5","s":"d4","k":"dash","x":4,"y":2.2},
{"p":"B5","s":"d5","k":"dash","x":0,"y":0.03},{"p":"B5","s":"d5","k":"dash","x":0.1,"y":0.12},{"p":"B5","s":"d5","k":"dash","x":0.2,"y":0.15},{"p":"B5","s":"d5","k":"dash","x":0.35,"y":0.02},{"p":"B5","s":"d5","k":"dash","x":0.5,"y":-0.12},{"p":"B5","s":"d5","k":"dash","x":0.75,"y":-0.38},{"p":"B5","s":"d5","k":"dash","x":1,"y":-0.62},{"p":"B5","s":"d5","k":"dash","x":1.5,"y":-0.8},{"p":"B5","s":"d5","k":"dash","x":2,"y":-0.8},{"p":"B5","s":"d5","k":"dash","x":2.5,"y":-0.52},{"p":"B5","s":"d5","k":"dash","x":3,"y":0.08},{"p":"B5","s":"d5","k":"dash","x":3.5,"y":1.0},{"p":"B5","s":"d5","k":"dash","x":4,"y":2.1},
{"p":"B5","s":"d6","k":"dash","x":0,"y":-0.02},{"p":"B5","s":"d6","k":"dash","x":0.1,"y":0.22},{"p":"B5","s":"d6","k":"dash","x":0.2,"y":0.25},{"p":"B5","s":"d6","k":"dash","x":0.35,"y":0.08},{"p":"B5","s":"d6","k":"dash","x":0.5,"y":-0.05},{"p":"B5","s":"d6","k":"dash","x":0.75,"y":-0.32},{"p":"B5","s":"d6","k":"dash","x":1,"y":-0.58},{"p":"B5","s":"d6","k":"dash","x":1.5,"y":-0.75},{"p":"B5","s":"d6","k":"dash","x":2,"y":-0.72},{"p":"B5","s":"d6","k":"dash","x":2.5,"y":-0.48},{"p":"B5","s":"d6","k":"dash","x":3,"y":0.12},{"p":"B5","s":"d6","k":"dash","x":3.5,"y":1.08},{"p":"B5","s":"d6","k":"dash","x":4,"y":2.15},
{"p":"B5","s":"d7","k":"dash","x":0,"y":0.0},{"p":"B5","s":"d7","k":"dash","x":0.1,"y":-0.08},{"p":"B5","s":"d7","k":"dash","x":0.2,"y":-0.05},{"p":"B5","s":"d7","k":"dash","x":0.35,"y":-0.15},{"p":"B5","s":"d7","k":"dash","x":0.5,"y":-0.28},{"p":"B5","s":"d7","k":"dash","x":0.75,"y":-0.55},{"p":"B5","s":"d7","k":"dash","x":1,"y":-0.8},{"p":"B5","s":"d7","k":"dash","x":1.5,"y":-1.05},{"p":"B5","s":"d7","k":"dash","x":2,"y":-1.02},{"p":"B5","s":"d7","k":"dash","x":2.5,"y":-0.7},{"p":"B5","s":"d7","k":"dash","x":3,"y":-0.1},{"p":"B5","s":"d7","k":"dash","x":3.5,"y":0.82},{"p":"B5","s":"d7","k":"dash","x":4,"y":1.9},
{"p":"B5","s":"d8","k":"dash","x":0,"y":0.02},{"p":"B5","s":"d8","k":"dash","x":0.1,"y":0.08},{"p":"B5","s":"d8","k":"dash","x":0.2,"y":0.12},{"p":"B5","s":"d8","k":"dash","x":0.35,"y":0.0},{"p":"B5","s":"d8","k":"dash","x":0.5,"y":-0.1},{"p":"B5","s":"d8","k":"dash","x":0.75,"y":-0.35},{"p":"B5","s":"d8","k":"dash","x":1,"y":-0.6},{"p":"B5","s":"d8","k":"dash","x":1.5,"y":-0.9},{"p":"B5","s":"d8","k":"dash","x":2,"y":-0.92},{"p":"B5","s":"d8","k":"dash","x":2.5,"y":-0.6},{"p":"B5","s":"d8","k":"dash","x":3,"y":0.02},{"p":"B5","s":"d8","k":"dash","x":3.5,"y":0.92},{"p":"B5","s":"d8","k":"dash","x":4,"y":2.0},

{"p":"C3","s":"t","k":"solid","x":0,"y":0},{"p":"C3","s":"t","k":"solid","x":0.13,"y":0.09},{"p":"C3","s":"t","k":"solid","x":0.64,"y":-0.1},{"p":"C3","s":"t","k":"solid","x":1.15,"y":-0.3},{"p":"C3","s":"t","k":"solid","x":1.5,"y":-0.33},{"p":"C3","s":"t","k":"solid","x":1.96,"y":-0.27},{"p":"C3","s":"t","k":"solid","x":2.57,"y":0.12},{"p":"C3","s":"t","k":"solid","x":3.08,"y":0.65},{"p":"C3","s":"t","k":"solid","x":3.53,"y":1.24},{"p":"C3","s":"t","k":"solid","x":4,"y":1.82},
{"p":"C3","s":"m","k":"dot","x":0,"y":0},{"p":"C3","s":"m","k":"dot","x":0.2,"y":0.19},{"p":"C3","s":"m","k":"dot","x":0.5,"y":0.1},{"p":"C3","s":"m","k":"dot","x":0.8,"y":-0.15},{"p":"C3","s":"m","k":"dot","x":1.05,"y":-0.37},{"p":"C3","s":"m","k":"dot","x":1.35,"y":-0.41},{"p":"C3","s":"m","k":"dot","x":1.76,"y":-0.33},{"p":"C3","s":"m","k":"dot","x":2.16,"y":-0.2},{"p":"C3","s":"m","k":"dot","x":2.67,"y":0.25},{"p":"C3","s":"m","k":"dot","x":3.18,"y":0.78},{"p":"C3","s":"m","k":"dot","x":3.69,"y":1.43},{"p":"C3","s":"m","k":"dot","x":3.94,"y":1.63},
{"p":"C3","s":"u","k":"long","x":0,"y":0.03},{"p":"C3","s":"u","k":"long","x":0.16,"y":0.37},{"p":"C3","s":"u","k":"long","x":0.33,"y":0.37},{"p":"C3","s":"u","k":"long","x":0.54,"y":0.19},{"p":"C3","s":"u","k":"long","x":0.79,"y":-0.07},{"p":"C3","s":"u","k":"long","x":1.15,"y":-0.17},{"p":"C3","s":"u","k":"long","x":1.55,"y":-0.17},{"p":"C3","s":"u","k":"long","x":1.96,"y":0.0},{"p":"C3","s":"u","k":"long","x":2.42,"y":0.25},{"p":"C3","s":"u","k":"long","x":2.92,"y":0.65},{"p":"C3","s":"u","k":"long","x":3.43,"y":1.24},{"p":"C3","s":"u","k":"long","x":3.79,"y":1.82},{"p":"C3","s":"u","k":"long","x":3.94,"y":1.89},
{"p":"C3","s":"l","k":"long","x":0,"y":-0.02},{"p":"C3","s":"l","k":"long","x":0.28,"y":-0.06},{"p":"C3","s":"l","k":"long","x":0.64,"y":-0.27},{"p":"C3","s":"l","k":"long","x":0.94,"y":-0.6},{"p":"C3","s":"l","k":"long","x":1.15,"y":-0.65},{"p":"C3","s":"l","k":"long","x":1.55,"y":-0.56},{"p":"C3","s":"l","k":"long","x":1.96,"y":-0.52},{"p":"C3","s":"l","k":"long","x":2.42,"y":-0.2},{"p":"C3","s":"l","k":"long","x":2.92,"y":0.25},{"p":"C3","s":"l","k":"long","x":3.43,"y":0.84},{"p":"C3","s":"l","k":"long","x":4,"y":1.36},

{"p":"C4","s":"t","k":"solid","x":0,"y":0},{"p":"C4","s":"t","k":"solid","x":0.5,"y":-0.15},{"p":"C4","s":"t","k":"solid","x":1,"y":-0.35},{"p":"C4","s":"t","k":"solid","x":1.5,"y":-0.5},{"p":"C4","s":"t","k":"solid","x":2,"y":-0.48},{"p":"C4","s":"t","k":"solid","x":2.5,"y":-0.3},{"p":"C4","s":"t","k":"solid","x":3,"y":0.2},{"p":"C4","s":"t","k":"solid","x":3.5,"y":0.95},{"p":"C4","s":"t","k":"solid","x":4,"y":1.9},
{"p":"C4","s":"m","k":"dot","x":0,"y":0},{"p":"C4","s":"m","k":"dot","x":0.15,"y":0.25},{"p":"C4","s":"m","k":"dot","x":0.5,"y":0.1},{"p":"C4","s":"m","k":"dot","x":1,"y":-0.3},{"p":"C4","s":"m","k":"dot","x":1.5,"y":-0.48},{"p":"C4","s":"m","k":"dot","x":2,"y":-0.45},{"p":"C4","s":"m","k":"dot","x":2.5,"y":-0.28},{"p":"C4","s":"m","k":"dot","x":3,"y":0.22},{"p":"C4","s":"m","k":"dot","x":3.5,"y":1.0},{"p":"C4","s":"m","k":"dot","x":4,"y":1.95},
{"p":"C4","s":"u","k":"long","x":0,"y":0.05},{"p":"C4","s":"u","k":"long","x":0.15,"y":0.55},{"p":"C4","s":"u","k":"long","x":0.35,"y":0.45},{"p":"C4","s":"u","k":"long","x":0.6,"y":0.1},{"p":"C4","s":"u","k":"long","x":1,"y":-0.15},{"p":"C4","s":"u","k":"long","x":1.5,"y":-0.28},{"p":"C4","s":"u","k":"long","x":2,"y":-0.28},{"p":"C4","s":"u","k":"long","x":2.5,"y":-0.05},{"p":"C4","s":"u","k":"long","x":3,"y":0.45},{"p":"C4","s":"u","k":"long","x":3.5,"y":1.25},{"p":"C4","s":"u","k":"long","x":4,"y":2.1},
{"p":"C4","s":"l","k":"long","x":0,"y":-0.02},{"p":"C4","s":"l","k":"long","x":0.3,"y":-0.1},{"p":"C4","s":"l","k":"long","x":0.7,"y":-0.3},{"p":"C4","s":"l","k":"long","x":1,"y":-0.55},{"p":"C4","s":"l","k":"long","x":1.5,"y":-0.72},{"p":"C4","s":"l","k":"long","x":1.8,"y":-0.75},{"p":"C4","s":"l","k":"long","x":2.2,"y":-0.65},{"p":"C4","s":"l","k":"long","x":2.5,"y":-0.5},{"p":"C4","s":"l","k":"long","x":3,"y":-0.05},{"p":"C4","s":"l","k":"long","x":3.5,"y":0.65},{"p":"C4","s":"l","k":"long","x":4,"y":1.55},

{"p":"C5","s":"t","k":"solid","x":0,"y":0},{"p":"C5","s":"t","k":"solid","x":0.48,"y":-0.27},{"p":"C5","s":"t","k":"solid","x":0.99,"y":-0.66},{"p":"C5","s":"t","k":"solid","x":1.5,"y":-0.86},{"p":"C5","s":"t","k":"solid","x":1.81,"y":-0.87},{"p":"C5","s":"t","k":"solid","x":2.12,"y":-0.73},{"p":"C5","s":"t","k":"solid","x":2.53,"y":-0.33},{"p":"C5","s":"t","k":"solid","x":3.04,"y":0.32},{"p":"C5","s":"t","k":"solid","x":3.55,"y":1.1},{"p":"C5","s":"t","k":"solid","x":4,"y":2.02},
{"p":"C5","s":"m","k":"dot","x":0,"y":0.06},{"p":"C5","s":"m","k":"dot","x":0.1,"y":0.29},{"p":"C5","s":"m","k":"dot","x":0.33,"y":0.19},{"p":"C5","s":"m","k":"dot","x":0.64,"y":-0.2},{"p":"C5","s":"m","k":"dot","x":0.99,"y":-0.63},{"p":"C5","s":"m","k":"dot","x":1.4,"y":-0.82},{"p":"C5","s":"m","k":"dot","x":1.81,"y":-0.86},{"p":"C5","s":"m","k":"dot","x":2.27,"y":-0.66},{"p":"C5","s":"m","k":"dot","x":2.83,"y":0.0},{"p":"C5","s":"m","k":"dot","x":3.34,"y":0.78},{"p":"C5","s":"m","k":"dot","x":3.75,"y":1.46},{"p":"C5","s":"m","k":"dot","x":4,"y":2.05},
{"p":"C5","s":"u","k":"long","x":0,"y":0.06},{"p":"C5","s":"u","k":"long","x":0.15,"y":0.68},{"p":"C5","s":"u","k":"long","x":0.33,"y":0.52},{"p":"C5","s":"u","k":"long","x":0.64,"y":-0.07},{"p":"C5","s":"u","k":"long","x":0.99,"y":-0.53},{"p":"C5","s":"u","k":"long","x":1.4,"y":-0.63},{"p":"C5","s":"u","k":"long","x":1.71,"y":-0.63},{"p":"C5","s":"u","k":"long","x":2.12,"y":-0.46},{"p":"C5","s":"u","k":"long","x":2.53,"y":-0.14},{"p":"C5","s":"u","k":"long","x":3.04,"y":0.45},{"p":"C5","s":"u","k":"long","x":3.55,"y":1.37},{"p":"C5","s":"u","k":"long","x":3.93,"y":2.22},
{"p":"C5","s":"l","k":"long","x":0,"y":-0.02},{"p":"C5","s":"l","k":"long","x":0.48,"y":-0.27},{"p":"C5","s":"l","k":"long","x":0.64,"y":-0.4},{"p":"C5","s":"l","k":"long","x":0.99,"y":-0.79},{"p":"C5","s":"l","k":"long","x":1.4,"y":-1.04},{"p":"C5","s":"l","k":"long","x":1.81,"y":-1.08},{"p":"C5","s":"l","k":"long","x":2.22,"y":-0.99},{"p":"C5","s":"l","k":"long","x":2.63,"y":-0.66},{"p":"C5","s":"l","k":"long","x":3.04,"y":-0.2},{"p":"C5","s":"l","k":"long","x":3.55,"y":0.58},{"p":"C5","s":"l","k":"long","x":4,"y":1.63}
]},
"concat":[
{"title":"A: True f(d1, d2)","width":283,"height":249,
 "layer":[
  {"transform":[{"filter":"datum.p=='A'"}],"mark":{"type":"line","color":"black","strokeWidth":1.4},
   "encoding":{"x":{"field":"x","type":"quantitative","scale":{"domain":[-0.16,4.16],"nice":false,"zero":false},"axis":{"title":"Dose1","values":[0,1,2,3,4],"format":"d"}},
    "y":{"field":"y","type":"quantitative","scale":{"domain":[-0.08,2.08],"nice":false,"zero":false},"axis":{"title":"Dose2","values":[0,0.5,1,1.5,2],"labelExpr":"datum.value % 1 == 0 ? format(datum.value, '.1f') : ''","titlePadding":-7}},
    "detail":{"field":"s"},"order":{"field":"o"}}},
  {"transform":[{"filter":"datum.p=='AL'"}],"mark":{"type":"text","fontSize":24,"color":"black","font":"Liberation Sans"},
   "encoding":{"x":{"field":"x","type":"quantitative"},"y":{"field":"y","type":"quantitative"},"text":{"field":"t"}}}
 ]},
{"title":"B1: Dose2 at 0","width":283,"height":249,"transform":[{"filter":"datum.p=='B1'"}],
 "mark":{"type":"line","color":"black","strokeWidth":1.4,"interpolate":"monotone"},
 "encoding":{"x":{"field":"x","type":"quantitative","scale":{"domain":[-0.16,4.16],"nice":false,"zero":false},"axis":{"title":"Dose 1","values":[0,1,2,3,4],"format":"d"}},
  "y":{"field":"y","type":"quantitative","scale":{"domain":[-2.18,2.68],"nice":false},"axis":{"title":"f(d1, d2)","values":[-2,-1,0,1,2],"format":"d"}},
  "detail":{"field":"s"},
  "strokeDash":{"field":"k","type":"nominal","scale":{"domain":["solid","dash","dot","long"],"range":[[1,0],[4,3],[1.5,3],[12,5]]},"legend":null}}},
{"title":"B2: Dose2 at 0.1","width":283,"height":249,"transform":[{"filter":"datum.p=='B2'"}],
 "mark":{"type":"line","color":"black","strokeWidth":1.4,"interpolate":"monotone"},
 "encoding":{"x":{"field":"x","type":"quantitative","scale":{"domain":[-0.16,4.16],"nice":false,"zero":false},"axis":{"title":"Dose 1","values":[0,1,2,3,4],"format":"d"}},
  "y":{"field":"y","type":"quantitative","scale":{"domain":[-2.18,2.68],"nice":false},"axis":{"title":"f(d1, d2)","values":[-2,-1,0,1,2],"format":"d"}},
  "detail":{"field":"s"},
  "strokeDash":{"field":"k","type":"nominal","scale":{"domain":["solid","dash","dot","long"],"range":[[1,0],[4,3],[1.5,3],[12,5]]},"legend":null}}},
{"title":"B3: Dose2 at 0.5","width":283,"height":249,"transform":[{"filter":"datum.p=='B3'"}],
 "mark":{"type":"line","color":"black","strokeWidth":1.4,"interpolate":"monotone"},
 "encoding":{"x":{"field":"x","type":"quantitative","scale":{"domain":[-0.16,4.16],"nice":false,"zero":false},"axis":{"title":"Dose 1","values":[0,1,2,3,4],"format":"d"}},
  "y":{"field":"y","type":"quantitative","scale":{"domain":[-2.18,2.68],"nice":false},"axis":{"title":"f(d1, d2)","values":[-2,-1,0,1,2],"format":"d"}},
  "detail":{"field":"s"},
  "strokeDash":{"field":"k","type":"nominal","scale":{"domain":["solid","dash","dot","long"],"range":[[1,0],[4,3],[1.5,3],[12,5]]},"legend":null}}},
{"title":"B4: Dose2 at 1","width":283,"height":249,"transform":[{"filter":"datum.p=='B4'"}],
 "mark":{"type":"line","color":"black","strokeWidth":1.4,"interpolate":"monotone"},
 "encoding":{"x":{"field":"x","type":"quantitative","scale":{"domain":[-0.16,4.16],"nice":false,"zero":false},"axis":{"title":"Dose 1","values":[0,1,2,3,4],"format":"d"}},
  "y":{"field":"y","type":"quantitative","scale":{"domain":[-2.18,2.68],"nice":false},"axis":{"title":"f(d1, d2)","values":[-2,-1,0,1,2],"format":"d"}},
  "detail":{"field":"s"},
  "strokeDash":{"field":"k","type":"nominal","scale":{"domain":["solid","dash","dot","long"],"range":[[1,0],[4,3],[1.5,3],[12,5]]},"legend":null}}},
{"title":"B5: Dose2 at 2","width":283,"height":249,"transform":[{"filter":"datum.p=='B5'"}],
 "mark":{"type":"line","color":"black","strokeWidth":1.4,"interpolate":"monotone"},
 "encoding":{"x":{"field":"x","type":"quantitative","scale":{"domain":[-0.16,4.16],"nice":false,"zero":false},"axis":{"title":"Dose 1","values":[0,1,2,3,4],"format":"d"}},
  "y":{"field":"y","type":"quantitative","scale":{"domain":[-2.18,2.68],"nice":false},"axis":{"title":"f(d1, d2)","values":[-2,-1,0,1,2],"format":"d"}},
  "detail":{"field":"s"},
  "strokeDash":{"field":"k","type":"nominal","scale":{"domain":["solid","dash","dot","long"],"range":[[1,0],[4,3],[1.5,3],[12,5]]},"legend":null}}},
{"title":"C3: Dose2 at 0.5","width":283,"height":249,"transform":[{"filter":"datum.p=='C3'"}],
 "mark":{"type":"line","color":"black","strokeWidth":1.4,"interpolate":"catmull-rom"},
 "encoding":{"x":{"field":"x","type":"quantitative","scale":{"domain":[-0.16,4.16],"nice":false,"zero":false},"axis":{"title":"Dose 1","values":[0,1,2,3,4],"format":"d"}},
  "y":{"field":"y","type":"quantitative","scale":{"domain":[-2.18,2.68],"nice":false},"axis":{"title":"f(d1, d2)","values":[-2,-1,0,1,2],"format":"d"}},
  "detail":{"field":"s"},
  "strokeDash":{"field":"k","type":"nominal","scale":{"domain":["solid","dash","dot","long"],"range":[[1,0],[4,3],[1.5,3],[12,5]]},"legend":null}}},
{"title":"C4: Dose2 at 1","width":283,"height":249,"transform":[{"filter":"datum.p=='C4'"}],
 "mark":{"type":"line","color":"black","strokeWidth":1.4,"interpolate":"catmull-rom"},
 "encoding":{"x":{"field":"x","type":"quantitative","scale":{"domain":[-0.16,4.16],"nice":false,"zero":false},"axis":{"title":"Dose 1","values":[0,1,2,3,4],"format":"d"}},
  "y":{"field":"y","type":"quantitative","scale":{"domain":[-2.18,2.68],"nice":false},"axis":{"title":"f(d1, d2)","values":[-2,-1,0,1,2],"format":"d"}},
  "detail":{"field":"s"},
  "strokeDash":{"field":"k","type":"nominal","scale":{"domain":["solid","dash","dot","long"],"range":[[1,0],[4,3],[1.5,3],[12,5]]},"legend":null}}},
{"title":"C5: Dose2 at 2","width":283,"height":249,"transform":[{"filter":"datum.p=='C5'"}],
 "mark":{"type":"line","color":"black","strokeWidth":1.4,"interpolate":"catmull-rom"},
 "encoding":{"x":{"field":"x","type":"quantitative","scale":{"domain":[-0.16,4.16],"nice":false,"zero":false},"axis":{"title":"Dose 1","values":[0,1,2,3,4],"format":"d"}},
  "y":{"field":"y","type":"quantitative","scale":{"domain":[-2.18,2.68],"nice":false},"axis":{"title":"f(d1, d2)","values":[-2,-1,0,1,2],"format":"d"}},
  "detail":{"field":"s"},
  "strokeDash":{"field":"k","type":"nominal","scale":{"domain":["solid","dash","dot","long"],"range":[[1,0],[4,3],[1.5,3],[12,5]]},"legend":null}}}
]
}
